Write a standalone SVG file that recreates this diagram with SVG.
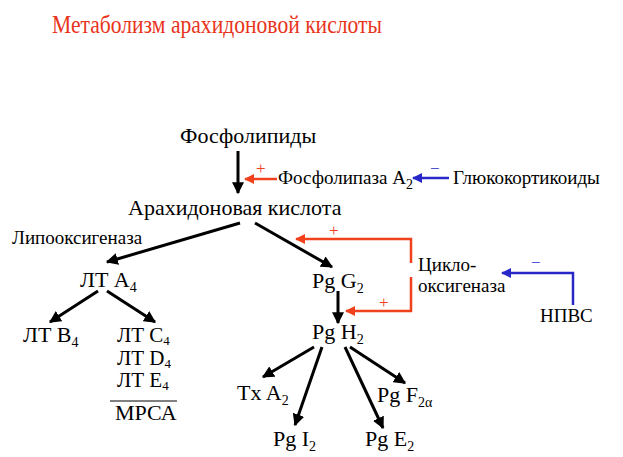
<svg xmlns="http://www.w3.org/2000/svg" width="623" height="457" viewBox="0 0 623 457">
<style>
text{font-family:"Liberation Serif","DejaVu Serif",serif;fill:#000}
.t{font-size:22px}
.u{font-size:21px}
.s{font-size:19px}
.sub{font-size:14px}
.sub2{font-size:13px}
.title{font-size:25px;fill:#e8341c}
.k{stroke:#000;stroke-width:3;fill:none}
.r{stroke:#f0401c;stroke-width:2.5;fill:none}
.b{stroke:#2828c8;stroke-width:2.5;fill:none}
.rp{fill:#f0401c;font-size:17px}
.bp{fill:#2828c8;font-size:17px}
</style>
<defs>
<marker id="ak" viewBox="0 0 10 10" refX="9" refY="5" markerWidth="4" markerHeight="4" orient="auto"><path d="M0,0L10,5L0,10z" fill="#000"/></marker>
<marker id="ar" viewBox="0 0 10 10" refX="9" refY="5" markerWidth="4" markerHeight="4" orient="auto"><path d="M0,0L10,5L0,10z" fill="#f0401c"/></marker>
<marker id="ab" viewBox="0 0 10 10" refX="9" refY="5" markerWidth="4" markerHeight="4" orient="auto"><path d="M0,0L10,5L0,10z" fill="#2828c8"/></marker>
</defs>
<text class="title" x="52" y="33" textLength="330" lengthAdjust="spacingAndGlyphs">Метаболизм арахидоновой  кислоты</text>
<g id="connectors">
<line class="k" x1="238" y1="151" x2="238" y2="193" marker-end="url(#ak)"/>
<line class="r" x1="277" y1="179" x2="245" y2="179" marker-end="url(#ar)"/>
<line class="b" x1="449" y1="178" x2="413" y2="178" marker-end="url(#ab)"/>
<line class="k" x1="240" y1="223" x2="107" y2="262" marker-end="url(#ak)"/>
<line class="k" x1="255" y1="223" x2="332" y2="267" marker-end="url(#ak)"/>
<polyline class="r" points="411,263 411,239 296,239" marker-end="url(#ar)"/>
<polyline class="r" points="411,277 411,311 346,311" marker-end="url(#ar)"/>
<polyline class="b" points="573,305 573,273 502,273" marker-end="url(#ab)"/>
<line class="k" x1="98" y1="291" x2="50" y2="322" marker-end="url(#ak)"/>
<line class="k" x1="107" y1="291" x2="155" y2="322" marker-end="url(#ak)"/>
<line class="k" x1="338" y1="291" x2="338" y2="323" marker-end="url(#ak)"/>
<line class="k" x1="314" y1="347" x2="263" y2="377" marker-end="url(#ak)"/>
<line class="k" x1="322" y1="347" x2="295" y2="425" marker-end="url(#ak)"/>
<line class="k" x1="345" y1="347" x2="383" y2="428" marker-end="url(#ak)"/>
<line class="k" x1="350" y1="347" x2="405" y2="383" marker-end="url(#ak)"/>
<line x1="110" y1="401" x2="177" y2="401" stroke="#000" stroke-width="1"/>
<text class="rp" x="256" y="174">+</text>
<text class="bp" x="430" y="174">−</text>
<text class="rp" x="329" y="236">+</text>
<text class="rp" x="379" y="308">+</text>
<text class="bp" x="531" y="268">−</text>
</g>
<g id="n-phospholipids"><text class="t" x="180" y="143">Фосфолипиды</text></g>
<g id="n-pla2"><text class="s" x="278" y="184">Фосфолипаза A<tspan class="sub" dy="5">2</tspan></text></g>
<g id="n-gluco"><text class="s" x="453" y="184">Глюкокортикоиды</text></g>
<g id="n-aa"><text class="t" x="128" y="215">Арахидоновая кислота</text></g>
<g id="n-lox"><text class="s" x="12" y="244">Липооксигеназа</text></g>
<g id="n-cox"><text class="s" x="418" y="271">Цикло-</text><text class="s" x="418" y="292">оксигеназа</text></g>
<g id="n-nsaid"><text class="s" x="540" y="322">НПВС</text></g>
<g id="n-lta4"><text class="t" x="80" y="287">ЛТ A<tspan class="sub" dy="5">4</tspan></text></g>
<g id="n-ltb4"><text class="t" x="23" y="342">ЛТ B<tspan class="sub" dy="5">4</tspan></text></g>
<g id="n-ltc4"><text class="u" x="117" y="342">ЛТ C<tspan class="sub2" dy="3">4</tspan></text>
<text class="u" x="117" y="365">ЛТ D<tspan class="sub2" dy="3">4</tspan></text>
<text class="u" x="117" y="387">ЛТ E<tspan class="sub2" dy="3">4</tspan></text>
<text class="t" x="115" y="420">МРСА</text></g>
<g id="n-pgg2"><text class="t" x="312" y="288">Pg G<tspan class="sub" dy="5">2</tspan></text></g>
<g id="n-pgh2"><text class="t" x="312" y="339">Pg H<tspan class="sub" dy="5">2</tspan></text></g>
<g id="n-txa2"><text class="t" x="237" y="400">Tx A<tspan class="sub" dy="5">2</tspan></text></g>
<g id="n-pgf2a"><text class="t" x="377" y="402">Pg F<tspan class="sub" dy="5">2α</tspan></text></g>
<g id="n-pgi2"><text class="t" x="273" y="446">Pg I<tspan class="sub" dy="5">2</tspan></text></g>
<g id="n-pge2"><text class="t" x="365" y="446">Pg E<tspan class="sub" dy="5">2</tspan></text></g>
</svg>
